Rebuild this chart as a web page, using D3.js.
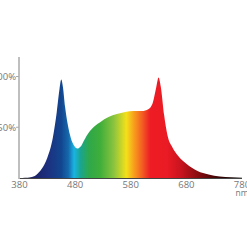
<!DOCTYPE html>
<html>
<head>
<meta charset="utf-8">
<script src="https://cdn.jsdelivr.net/npm/d3@7"></script>
<style>
  html, body { margin: 0; padding: 0; background: #fff; overflow: hidden; }
  svg { display: block; }
  text { font-family: 'Open Sans', sans-serif; }
</style>
</head>
<body>
<div id="chart"></div>
<script>
// spectrum samples (nm, relative %)
const wavelengths = [380, 390, 400, 410, 420, 430, 440, 447, 452, 455, 458, 462, 467, 472, 478, 484, 490, 497, 505, 515, 525, 540, 555, 570, 585, 600, 612, 620, 626, 630, 634, 640, 646, 655, 665, 680, 700, 720, 740, 760, 780];
const intensity   = [0, 0.2, 0.8, 3, 9, 20, 40, 65, 88, 97, 90, 70, 52, 40, 32, 29, 31, 38, 45, 51, 55, 60, 63, 65, 66, 66, 68, 75, 90, 99, 90, 62, 42, 30, 22, 14, 7, 3.5, 1.5, 0.7, 0.3];

const xTicks = [380, 480, 580, 680, 780];
const yTicks = [50, 100];
const yTickLabels = ['50%', '100%'];

// colour ramp along the wavelength axis
const rampNm     = [380, 400, 430, 455, 468, 478, 490, 505, 525, 550, 572, 585, 600, 615, 645, 670, 700, 735, 780];
const rampColors = ['#000000', '#1b2160', '#1d2f7f', '#12468f', '#1669ad', '#19b4e3', '#1aa58e', '#2fa84a', '#3fae3a', '#8cc43e', '#f4e01a', '#f8a21c', '#f26122', '#ee1c24', '#ea1b24', '#c8141f', '#8a0c10', '#400506', '#000000'];

const W = 247, H = 247;
const x = d3.scaleLinear().domain([380, 780]).range([19.5, 242]);
const y = d3.scaleLinear().domain([0, 100]).range([178, 76.5]);

const svg = d3.select('#chart').append('svg')
     .attr('width', W).attr('height', H)
     .attr('viewBox', `0 0 ${W} ${H}`);

const grad = svg.append('defs').append('linearGradient')
     .attr('id', 'spec-grad')
     .attr('gradientUnits', 'userSpaceOnUse')
     .attr('x1', x(380)).attr('x2', x(780))
     .attr('y1', 0).attr('y2', 0);
grad.selectAll('stop')
     .data(rampNm)
     .join('stop')
     .attr('offset', d => ((d - 380) / 400 * 100).toFixed(2) + '%')
     .attr('stop-color', (d, i) => rampColors[i]);

const pts = wavelengths.map((w, i) => ({ w, v: intensity[i] }));
const area = d3.area()
     .x(d => x(d.w))
     .y0(y(0))
     .y1(d => y(d.v))
     .curve(d3.curveMonotoneX);

svg.append('path')
     .datum(pts)
     .attr('d', area)
     .attr('fill', 'url(#spec-grad)');

// baseline
svg.append('line')
     .attr('x1', x(380)).attr('x2', x(780))
     .attr('y1', y(0) + 0.5).attr('y2', y(0) + 0.5)
     .attr('stroke', '#444').attr('stroke-width', 1);

// y axis
svg.append('line')
     .attr('x1', 19).attr('x2', 19)
     .attr('y1', 57).attr('y2', y(0) + 1)
     .attr('stroke', '#aaa').attr('stroke-width', 1.5);

const yg = svg.append('g').selectAll('g')
     .data(yTicks)
     .join('g')
     .attr('transform', d => `translate(0,${y(d)})`);
yg.append('line')
     .attr('x1', 16).attr('x2', 19)
     .attr('stroke', '#aaa').attr('stroke-width', 1);
yg.append('text')
     .attr('x', 16).attr('dy', '0.35em')
     .attr('text-anchor', 'end')
     .attr('font-size', '9.5px').attr('fill', '#777')
     .text((d, i) => yTickLabels[i]);

// x tick labels
svg.append('g').selectAll('text')
     .data(xTicks)
     .join('text')
     .attr('x', d => x(d))
     .attr('y', 188)
     .attr('text-anchor', 'middle')
     .attr('font-size', '9.5px').attr('fill', '#777')
     .text(d => d);

svg.append('text')
     .attr('x', x(780))
     .attr('y', 196)
     .attr('text-anchor', 'middle')
     .attr('font-size', '8.5px').attr('fill', '#777')
     .text('nm');
</script>
</body>
</html>
